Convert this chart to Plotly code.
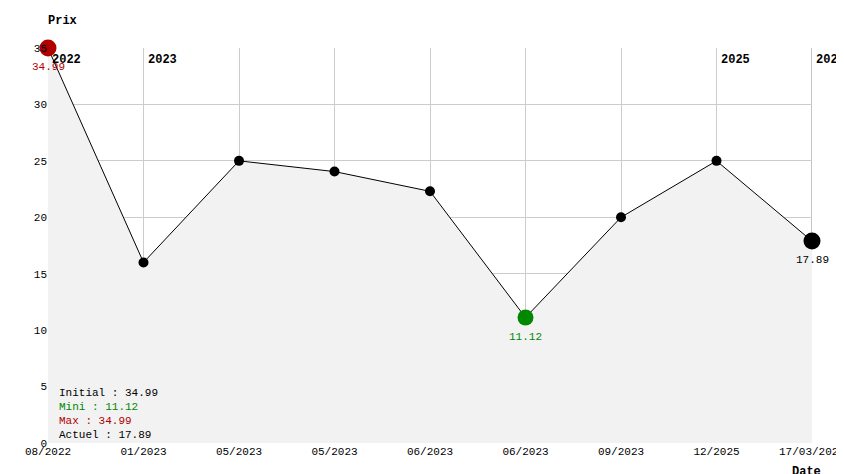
import plotly.graph_objects as go

labels = ["08/2022","01/2023","05/2023","05/2023","06/2023","06/2023","09/2023","12/2025","17/03/2026"]
prices = [34.99, 16.0, 25.0, 24.05, 22.3, 11.12, 20.0, 25.0, 17.89]
year_idx = [0, 1, 7, 8]
year_txt = ["2022", "2023", "2025", "2026"]
x = list(range(len(prices)))
F = "Liberation Mono"

fig = go.Figure()
fig.add_trace(go.Scatter(x=x, y=prices, mode="lines", line=dict(color="black", width=1),
                         fill="tozeroy", fillcolor="#f2f2f2", hoverinfo="skip"))
fig.add_trace(go.Scatter(x=x[1:-1], y=prices[1:-1], mode="markers",
                         marker=dict(color="black", size=10)))
imin = prices.index(min(prices)); imax = prices.index(max(prices))
fig.add_trace(go.Scatter(x=[x[imax]], y=[prices[imax]], mode="markers", marker=dict(color="#b00000", size=17), cliponaxis=False))
fig.add_trace(go.Scatter(x=[x[imin]], y=[prices[imin]], mode="markers", marker=dict(color="#008800", size=16)))
fig.add_trace(go.Scatter(x=[x[-1]], y=[prices[-1]], mode="markers", marker=dict(color="black", size=17), cliponaxis=False))

shapes = []
for i in year_idx:
    shapes.append(dict(type="line", xref="x", yref="y", x0=i, x1=i, y0=0, y1=35,
                       line=dict(color="#888888", width=1), layer="below"))
ann = []
for i, t in zip(year_idx, year_txt):
    ann.append(dict(x=i, y=35, text="<b>"+t+"</b>", showarrow=False, xanchor="left", yanchor="top",
                    xshift=2, yshift=-3, font=dict(family=F, size=12, color="black")))
ann += [
    dict(x=x[imax], y=prices[imax], text=f"{prices[imax]:.2f}", showarrow=False, yshift=-19, font=dict(family=F, size=11, color="#b00000")),
    dict(x=x[imin], y=prices[imin], text=f"{prices[imin]:.2f}", showarrow=False, yshift=-19, font=dict(family=F, size=11, color="#008800")),
    dict(x=x[-1], y=prices[-1], text=f"{prices[-1]:.2f}", showarrow=False, yshift=-19, font=dict(family=F, size=11, color="black")),
    dict(xref="paper", yref="paper", x=0, y=1, xshift=-2, yshift=36, text="<b>Prix</b>", showarrow=False, xanchor="left", yanchor="top", font=dict(family=F, size=12)),
    dict(xref="paper", yref="paper", x=1, y=0, xshift=-22, yshift=-20, text="<b>Date</b>", showarrow=False, xanchor="left", yanchor="top", font=dict(family=F, size=12)),
]
info = [("Initial : %.2f" % prices[0], "black"), ("Mini : %.2f" % min(prices), "#008800"),
        ("Max : %.2f" % max(prices), "#b00000"), ("Actuel : %.2f" % prices[-1], "black")]
for k, (t, c) in enumerate(info):
    ann.append(dict(xref="paper", yref="paper", x=0, y=0, xshift=9, yshift=50 - k*14, text=t, showarrow=False,
                    xanchor="left", yanchor="middle", font=dict(family=F, size=11, color=c)))

fig.update_layout(width=844, height=474, margin=dict(l=40, r=40, t=40, b=39),
                  paper_bgcolor="white", plot_bgcolor="white", showlegend=False,
                  shapes=shapes, annotations=ann, font=dict(family=F, size=11, color="black"))
fig.update_xaxes(range=[0, 8], tickvals=x, ticktext=labels, showgrid=True, gridcolor="#cccccc",
                 zeroline=False, showline=False, ticks="", tickfont=dict(family=F, size=11), automargin=False)
fig.update_yaxes(range=[0, 35], dtick=5, showgrid=True, gridcolor="#cccccc", zeroline=False,
                 ticks="", tickfont=dict(family=F, size=11), automargin=False)
fig.write_html("out.html")
